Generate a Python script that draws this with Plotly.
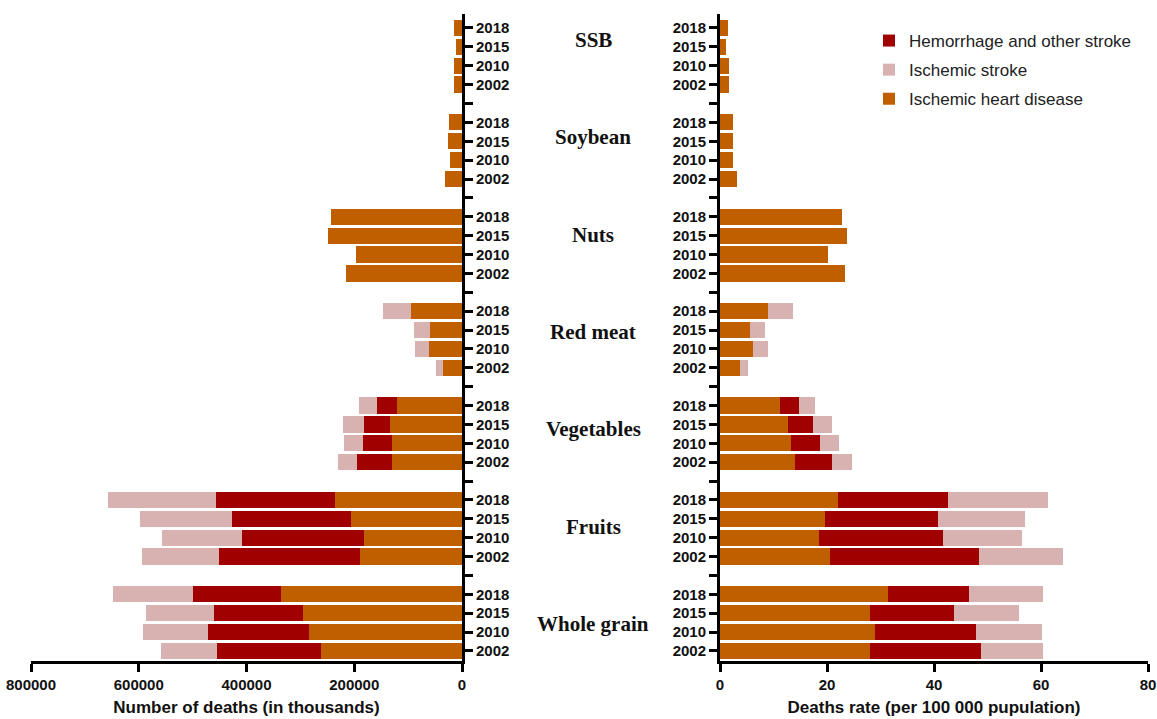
import plotly.graph_objects as go

# Food groups (top to bottom) and survey years within each group
categories = ["SSB", "Soybean", "Nuts", "Red meat", "Vegetables", "Fruits", "Whole grain"]
years = ["2018", "2015", "2010", "2002"]

# Number of deaths, ordered by category then year (2018, 2015, 2010, 2002)
deaths_ihd = [
    15200, 11300, 15200, 15200,        # SSB
    24500, 26500, 22500, 31200,        # Soybean
    243900, 249300, 197500, 215500,    # Nuts
    95400, 59000, 61600, 35800,        # Red meat
    121400, 133800, 129200, 130700,    # Vegetables
    235300, 205500, 182300, 189500,    # Fruits
    336100, 294900, 284300, 261100,    # Whole grain
]
deaths_hem = [
    0, 0, 0, 0,
    0, 0, 0, 0,
    0, 0, 0, 0,
    0, 0, 0, 0,
    36400, 48500, 54400, 64200,
    221500, 221400, 226700, 261300,
    162400, 165800, 186900, 192900,
]
deaths_isc = [
    0, 0, 0, 0,
    0, 0, 0, 0,
    0, 0, 0, 0,
    51800, 30500, 25800, 12600,
    33700, 38400, 35200, 34500,
    201200, 171700, 147000, 143200,
    149800, 126500, 120100, 105400,
]

# Death rates per 100 000 population, same ordering
rate_ihd = [
    1.5, 1.1, 1.6, 1.6,
    2.4, 2.5, 2.4, 3.2,
    22.8, 23.8, 20.1, 23.3,
    8.9, 5.7, 6.1, 3.7,
    11.3, 12.7, 13.2, 14.0,
    22.0, 19.6, 18.5, 20.5,
    31.4, 28.0, 28.9, 28.0,
]
rate_hem = [
    0, 0, 0, 0,
    0, 0, 0, 0,
    0, 0, 0, 0,
    0, 0, 0, 0,
    3.5, 4.6, 5.5, 6.9,
    20.7, 21.1, 23.1, 27.9,
    15.2, 15.8, 19.0, 20.8,
]
rate_isc = [
    0, 0, 0, 0,
    0, 0, 0, 0,
    0, 0, 0, 0,
    4.8, 2.7, 2.8, 1.6,
    3.0, 3.6, 3.5, 3.8,
    18.7, 16.4, 14.8, 15.7,
    13.8, 12.1, 12.2, 11.6,
]

deaths_ticks = [0, 200000, 400000, 600000, 800000]
rate_ticks = [0, 20, 40, 60, 80]

COL_IHD = "#C05F00"
COL_HEM = "#A00000"
COL_ISC = "#D8B1B1"

# Each group takes 4 year slots plus one empty slot as a separator
SLOTS = len(years) + 1
ypos = [g * SLOTS + k for g in range(len(categories)) for k in range(len(years))]
sep_pos = [g * SLOTS + len(years) for g in range(len(categories) - 1)]
tickvals = ypos + sep_pos
ticktext = [y for _ in categories for y in years] + [""] * len(sep_pos)

series = [
    ("Ischemic heart disease", COL_IHD, deaths_ihd, rate_ihd, 3),
    ("Hemorrhage and other stroke", COL_HEM, deaths_hem, rate_hem, 1),
    ("Ischemic stroke", COL_ISC, deaths_isc, rate_isc, 2),
]

fig = go.Figure()
for name, color, left_vals, right_vals, rank in series:
    fig.add_trace(go.Bar(
        y=ypos, x=left_vals, orientation="h", name=name,
        marker=dict(color=color, line=dict(width=0)),
        width=0.86, xaxis="x", yaxis="y",
        legendgroup=name, legendrank=rank, showlegend=True,
    ))
    fig.add_trace(go.Bar(
        y=ypos, x=right_vals, orientation="h", name=name,
        marker=dict(color=color, line=dict(width=0)),
        width=0.86, xaxis="x2", yaxis="y2",
        legendgroup=name, legendrank=rank, showlegend=False,
    ))

W, H = 1157, 719
y_range = [33.53, -0.74]
bold_tick = dict(family="Liberation Sans, Arial", size=15, color="#111", weight="bold")
title_font = dict(family="Liberation Sans, Arial", size=17, color="#111", weight="bold")

axis_common = dict(
    showline=True, linecolor="black", linewidth=3,
    ticks="outside", ticklen=8, tickwidth=3, tickcolor="black",
    showgrid=False, zeroline=False, automargin=False,
    tickfont=bold_tick, ticklabeloverflow="allow",
)

fig.update_layout(
    width=W, height=H,
    margin=dict(l=0, r=0, t=0, b=0),
    paper_bgcolor="white", plot_bgcolor="white",
    barmode="stack", bargap=0,
    xaxis=dict(
        domain=[31 / W, 462 / W], anchor="y",
        range=[800000, 0], tickvals=deaths_ticks, tickformat="d",
        title=dict(text="Number of deaths (in thousands)", font=title_font, standoff=10),
        **axis_common,
    ),
    yaxis=dict(
        domain=[1 - 661 / H, 1 - 14 / H], anchor="x", side="right",
        range=y_range, tickvals=tickvals, ticktext=ticktext,
        **axis_common,
    ),
    xaxis2=dict(
        domain=[720 / W, 1148 / W], anchor="y2",
        range=[0, 80], tickvals=rate_ticks,
        title=dict(text="Deaths rate (per 100 000 pupulation)", font=title_font, standoff=10),
        **axis_common,
    ),
    yaxis2=dict(
        domain=[1 - 661 / H, 1 - 14 / H], anchor="x2", side="left",
        range=y_range, tickvals=tickvals, ticktext=ticktext,
        **axis_common,
    ),
    legend=dict(
        x=869 / W, y=1 - 23 / H, xanchor="left", yanchor="top",
        font=dict(family="Liberation Sans, Arial", size=17, color="#222"),
        traceorder="grouped", tracegroupgap=4,
        bgcolor="rgba(0,0,0,0)",
    ),
)

# Food group names between the two panels
for i, name in enumerate(categories):
    fig.add_annotation(
        x=593 / W, xref="paper", y=0.64 + i * 5.155, yref="y",
        text=f"<b>{name}</b>", showarrow=False,
        font=dict(family="Liberation Serif, Times New Roman", size=21, color="#111"),
        xanchor="center", yanchor="middle",
    )

fig.write_html("out.html")
